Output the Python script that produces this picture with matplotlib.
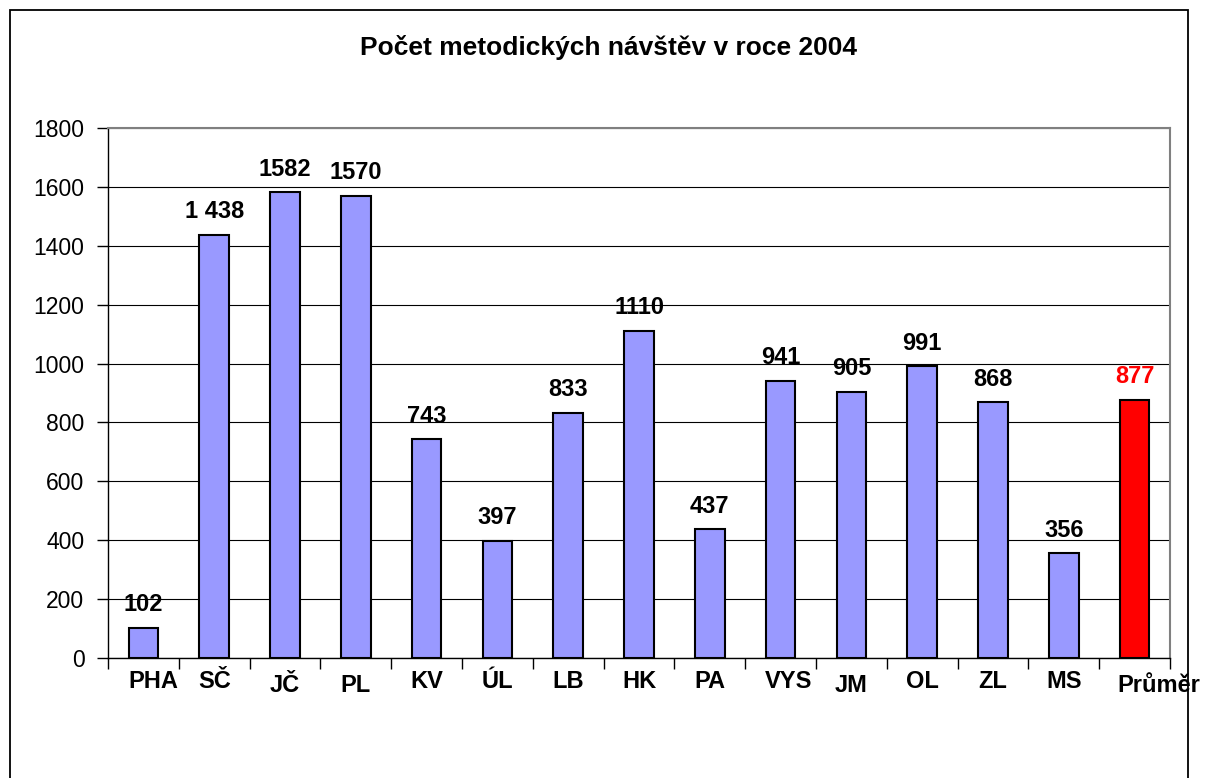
import matplotlib
matplotlib.use("Agg")
import matplotlib.pyplot as plt
from matplotlib.patches import Rectangle
from matplotlib.transforms import ScaledTranslation

plt.rcParams['font.family'] = ['Liberation Sans', 'DejaVu Sans']

categories = ["PHA", "SČ", "JČ", "PL", "KV", "ÚL", "LB", "HK", "PA", "VYS", "JM", "OL", "ZL", "MS", "Průměr"]
values = [102, 1438, 1582, 1570, 743, 397, 833, 1110, 437, 941, 905, 991, 868, 356, 877]
value_labels = ["102", "1 438", "1582", "1570", "743", "397", "833", "1110", "437", "941", "905", "991", "868", "356", "877"]
bar_colors = ["#9999FF"] * 14 + ["#FF0000"]
label_colors = ["black"] * 14 + ["#FF0000"]
yticks = [0, 200, 400, 600, 800, 1000, 1200, 1400, 1600, 1800]
title = "Počet metodických návštěv v roce 2004"

# per-label pixel offsets (dx, dy) mimicking original placement
label_dx = [10, 0, 0, 0, 0, 0, 0, 0, 0, 8, 0, 0, 0, 0, 24]
label_dy = [0, 0, 3, 3, 0, 0, 0, 0, 0, 0, 3, 0, 0, 0, 3]

W, H = 1206, 778
fig = plt.figure(figsize=(W / 100, H / 100), dpi=100)
fig.patch.set_facecolor("white")

# outer chart frame (bottom edge outside picture)
fig.patches.append(Rectangle((10 / W, -0.05), (1188 - 10) / W, 1.05 - 10 / H,
                             transform=fig.transFigure, fill=False,
                             edgecolor="black", linewidth=1.3))

ax = fig.add_axes([108 / W, (H - 658) / H, (1170 - 108) / W, (658 - 128) / H])
x = list(range(len(categories)))
ax.bar(x, values, width=0.42, color=bar_colors, edgecolor="black", linewidth=1.5, zorder=3)
ax.set_xlim(-0.5, len(categories) - 0.5)
ax.set_ylim(0, 1800)

ax.set_yticks(yticks)
ax.set_yticklabels([str(v) for v in yticks], fontsize=16.5)
ax.tick_params(axis="y", direction="out", length=8, width=1, pad=9, colors="black")
ax.yaxis.grid(True, color="black", linewidth=0.8, zorder=0)
ax.set_axisbelow(True)

# x ticks at category boundaries, labels at centers
ax.set_xticks([i - 0.5 for i in range(len(categories) + 1)])
ax.set_xticklabels([])
ax.set_xticks(x, minor=True)
ax.set_xticklabels(categories, minor=True, fontsize=17, fontweight="bold")
ax.tick_params(axis="x", which="major", direction="out", length=8, width=1)
ax.tick_params(axis="x", which="minor", length=0, pad=9)
for lbl, dx, dy in zip(ax.xaxis.get_minorticklabels(), label_dx, label_dy):
    lbl.set_transform(lbl.get_transform() + ScaledTranslation(dx / 100, -dy / 100, fig.dpi_scale_trans))

for side in ["top", "right"]:
    ax.spines[side].set_color("#808080")
    ax.spines[side].set_linewidth(1.5)
for side in ["left", "bottom"]:
    ax.spines[side].set_color("black")
    ax.spines[side].set_linewidth(1.0)

for xi, v, s, c in zip(x, values, value_labels, label_colors):
    ax.annotate(s, (xi, v), xytext=(0, 12), textcoords="offset points",
                ha="center", va="baseline", fontsize=17, fontweight="bold", color=c, zorder=4)

fig.text(608 / W, 1 - 47 / H, title, ha="center", va="center", fontsize=19, fontweight="bold")

fig.savefig("out.png", dpi=100)
